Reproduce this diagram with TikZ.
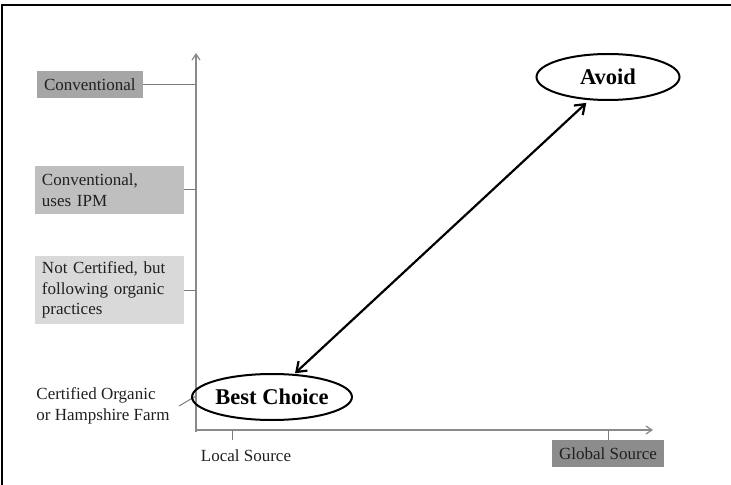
\documentclass[tikz,border=0pt]{standalone}
\usepackage{fontspec}
\setmainfont{Liberation Serif}
\usetikzlibrary{shapes.geometric,arrows.meta}
\definecolor{txt}{HTML}{202020}
\definecolor{axisgray}{HTML}{8A8A8A}
\definecolor{darkfill}{HTML}{A6A6A6}
\definecolor{midfill}{HTML}{BFBFBF}
\definecolor{lightfill}{HTML}{D9D9D9}
\definecolor{globfill}{HTML}{8C8C8C}
\tikzset{
  lbl/.style={text=txt, font=\fontsize{17bp}{20.5bp}\selectfont, inner sep=0pt},
  catbox/.style={lbl, inner xsep=7bp, align=left, anchor=center},
  choice/.style={ellipse, draw=black, line width=2bp, minimum width=143bp,
                 minimum height=46bp, inner sep=0pt,
                 font=\fontsize{22.5bp}{24bp}\selectfont\bfseries},
  axis/.style={draw=axisgray, line width=1.2bp},
  guide/.style={draw=axisgray!90!black, line width=1bp},
}
\begin{document}
\begin{tikzpicture}[x=1bp, y=-1bp]
\useasboundingbox (0,0) rectangle (731,485);
% partial frame
\draw[line width=2.5bp, black] (2,486) -- (2,5) -- (732,5);

% axes
\coordinate (O) at (196,430);
\coordinate (ytop) at (196,53);
\coordinate (xend) at (653,430);
\draw[axis, -{Straight Barb[length=6bp,width=8bp]}] (196,432) -- (ytop);
\draw[axis, -{Straight Barb[length=6bp,width=8bp]}] (O) -- (xend);

% categories on the vertical axis
\node[catbox, fill=darkfill, minimum width=106bp, minimum height=27bp, text width=92bp]
  (conv) at (90,84.5) {Conventional};
\node[catbox, fill=midfill, minimum width=149bp, minimum height=48bp, text width=135bp]
  (ipm) at (109.5,190) {Conventional,\\uses IPM};
\node[catbox, fill=lightfill, minimum width=149bp, minimum height=68bp, text width=135bp]
  (notcert) at (109.5,290) {Not Certified, but\\following organic\\practices};
\node[lbl, align=left] (cert) at (103,406) {Certified Organic\\or Hampshire Farm};

\draw[guide] (conv.east) -- (conv.east -| O);
\draw[guide] (ipm.east) -- (ipm.east -| O);
\draw[guide] (notcert.east) -- (notcert.east -| O);
\coordinate (certtick) at (196,396);
\draw[guide] (179,406) -- (certtick);

% categories on the horizontal axis
\node[lbl] (local) at (246,456) {Local Source};
\coordinate (localtick) at (232,430);
\node[catbox, fill=globfill, minimum width=112bp, minimum height=27bp]
  (glob) at (608,453.5) {Global Source};
\draw[guide] (localtick) -- ++(0,10);
\draw[guide] (glob.north) -- (glob.north |- O);

% the two extremes
\node[choice] (best) at (272,397) {Best Choice};
\node[choice] (avoid) at (608,77) {Avoid};
\draw[line width=2.2bp, {Straight Barb[length=9bp,width=13bp]}-{Straight Barb[length=9bp,width=13bp]},
      shorten >=4bp, shorten <=1bp] (best.46) -- (avoid.231);
\end{tikzpicture}
\end{document}
